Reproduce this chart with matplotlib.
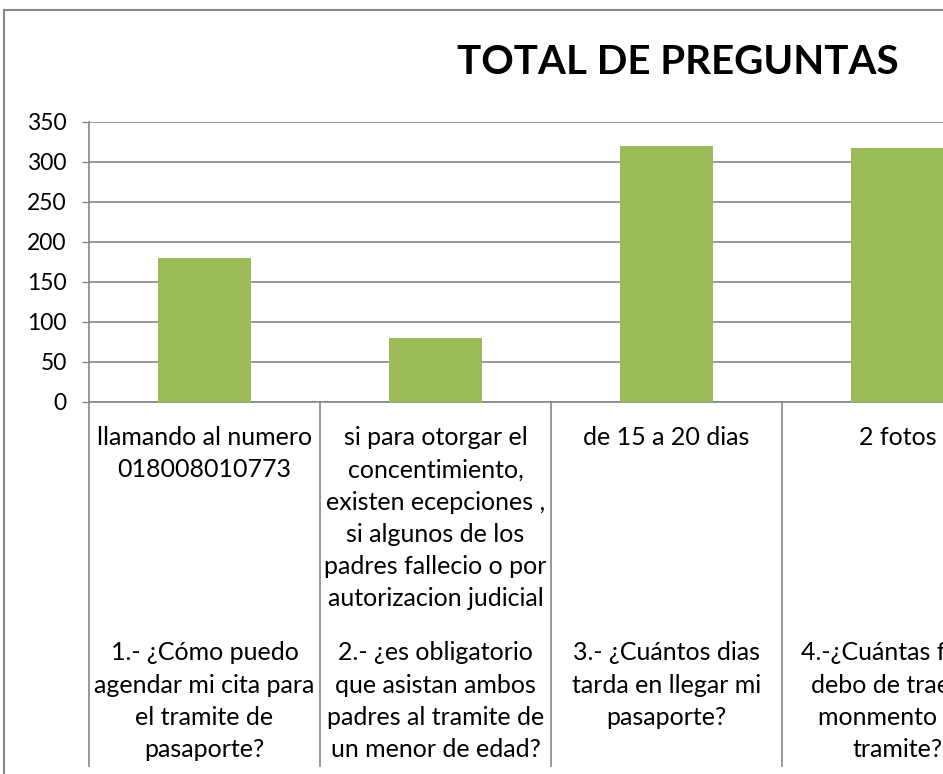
import matplotlib.pyplot as plt
from matplotlib.lines import Line2D

respuestas = ['llamando al numero\n018008010773',
              'si para otorgar el\nconcentimiento,\nexisten ecepciones ,\nsi algunos de los\npadres fallecio o por\nautorizacion judicial',
              'de 15 a 20 dias',
              '2 fotos']
preguntas = ['1.- ¿Cómo puedo\nagendar mi cita para\nel tramite de\npasaporte?',
             '2.- ¿es obligatorio\nque asistan ambos\npadres al tramite de\nun menor de edad?',
             '3.- ¿Cuántos dias\ntarda en llegar mi\npasaporte?',
             '4.-¿Cuántas fotos\ndebo de traer al\nmonmento del\ntramite?']
totales = [180, 80, 320, 318]
yticks = [0, 50, 100, 150, 200, 250, 300, 350]

plt.rcParams['font.family'] = ['Lato', 'DejaVu Sans']

W, H = 943, 774
fig = plt.figure(figsize=(W / 100, H / 100), dpi=100)
grid = '#868686'

# axes extends past the right edge, like the cropped original
ax = fig.add_axes([89 / W, (H - 402) / H, 924 / W, 280 / H])
x = list(range(len(totales)))
ax.bar(x, totales, width=0.4, color='#9BBB59', zorder=3)
ax.set_xlim(-0.5, 3.5)
ax.set_ylim(0, 350)
ax.set_yticks(yticks)
ax.tick_params(axis='y', labelsize=16.5, length=5, width=1, color=grid, pad=11)
ax.set_xticks([])
ax.yaxis.grid(True, color=grid, linewidth=1.2, zorder=0)
for s in ['top', 'right']:
    ax.spines[s].set_visible(False)
ax.spines['left'].set_color(grid)
ax.spines['bottom'].set_color(grid)
ax.spines['left'].set_linewidth(1.2)
ax.spines['bottom'].set_linewidth(1.2)

trans = ax.get_xaxis_transform()
for i in range(len(totales) + 1):
    ax.add_line(Line2D([i - 0.5, i - 0.5], [0, -1.3], transform=trans,
                       color=grid, linewidth=1.2, clip_on=False))
for i in x:
    ax.text(i, -0.087, respuestas[i], transform=trans, ha='center', va='top',
            fontsize=18, linespacing=1.48, clip_on=False)
    ax.text(i, -0.855, preguntas[i], transform=trans, ha='center', va='top',
            fontsize=18, linespacing=1.48, clip_on=False)

fig.text(678 / W, 1 - 62 / H, 'TOTAL DE PREGUNTAS', ha='center', va='center',
         fontsize=29, fontweight='bold')

# chart border
fig.add_artist(Line2D([4 / W, 1], [1 - 10 / H, 1 - 10 / H], color=grid, linewidth=1.5))
fig.add_artist(Line2D([4 / W, 4 / W], [0, 1 - 10 / H], color=grid, linewidth=1.5))

fig.savefig('out.png', dpi=100)
